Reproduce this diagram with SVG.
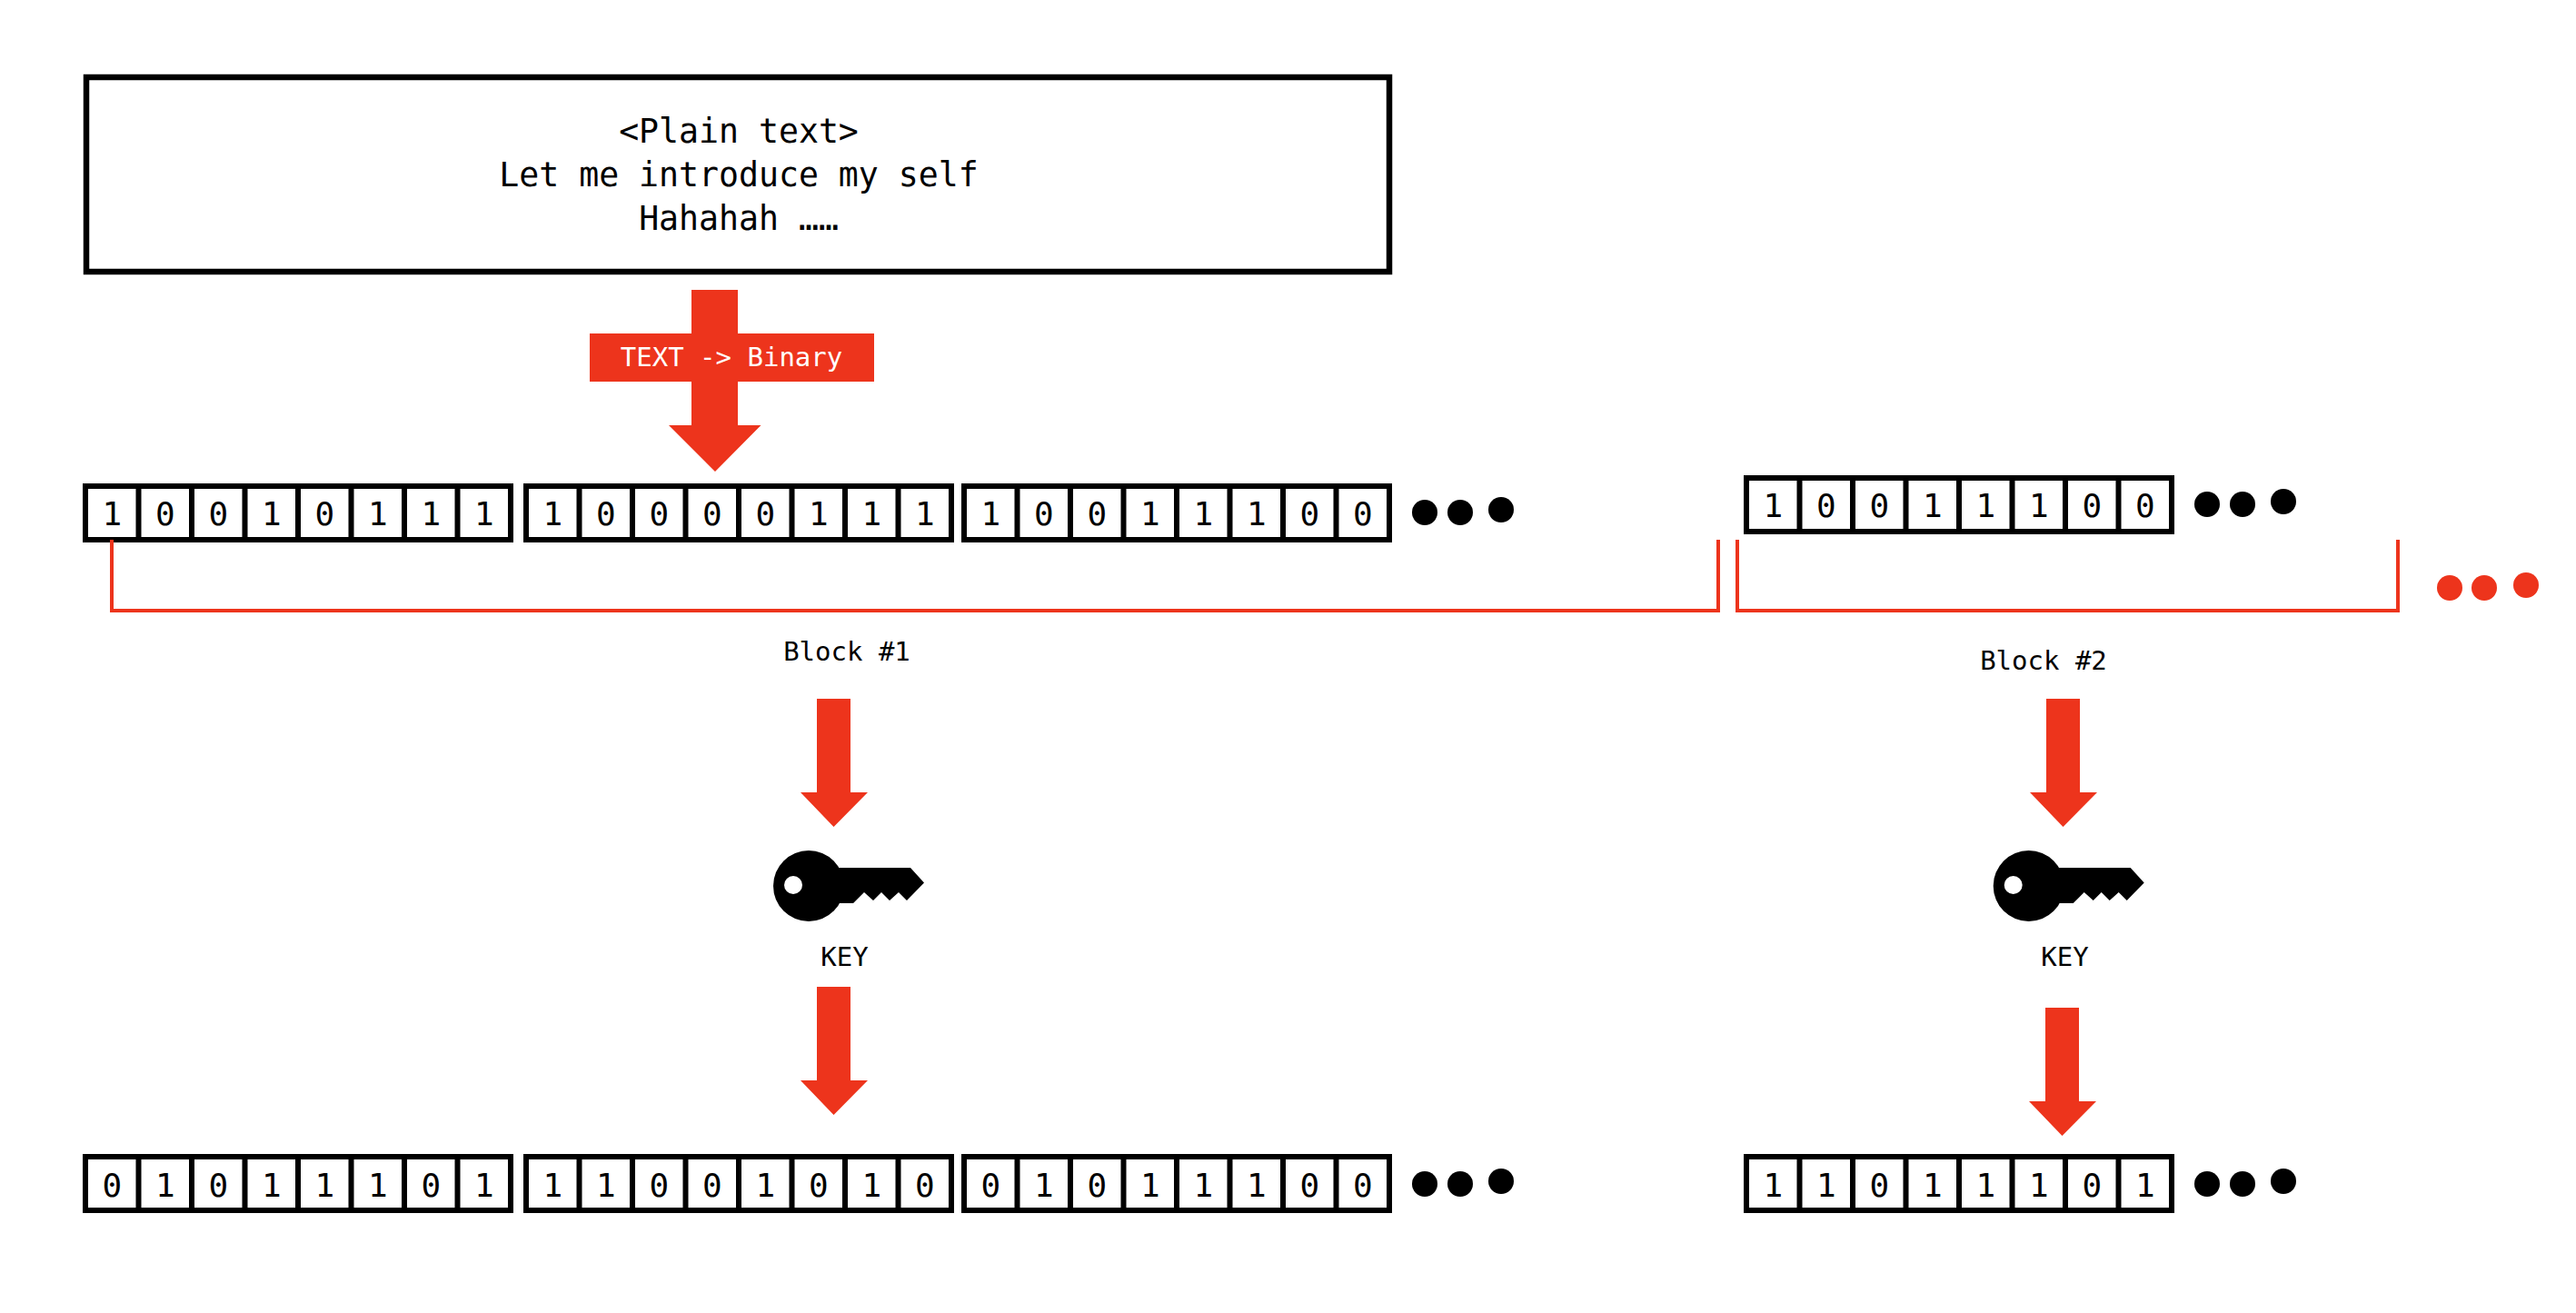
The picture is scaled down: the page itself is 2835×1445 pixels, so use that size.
<svg xmlns="http://www.w3.org/2000/svg" xmlns:xlink="http://www.w3.org/1999/xlink" width="2835" height="1445" viewBox="0 0 2835 1445">
<style>
text{font-family:"DejaVu Sans Mono",monospace;fill:#000;text-anchor:middle}
.t{font-size:36.5px}
.l{font-size:29px}
.b{font-size:36px}
.w{fill:#fff}
.f{fill:#ed341c}
.c{fill:#fff;stroke:#000;stroke-width:6.500}
.g{fill:none;stroke:#000;stroke-width:6}
.br{fill:none;stroke:#ed341c;stroke-width:4}
</style>
<defs>
<path id="arrow" class="f" d="M899 769H936V872H955L917.500 910 881 872H899Z"/>
<g id="key">
<circle cx="890" cy="975" r="39"/>
<path d="M921 955H1002L1017 971.500 998 991 989 982 979 991 970 982 961 991 951 982 939 994H921Z"/>
<circle cx="873" cy="974" r="10" fill="#fff"/>
</g>
<g id="reg">
<rect class="g" x="94" y="535" width="468" height="59" fill="#fff"/>
<path class="g" d="M152.500 535V594M211 535V594M269.500 535V594M328 535V594M386.500 535V594M445 535V594M503.500 535V594"/>
</g>
<g id="dots">
<circle cx="1568" cy="564" r="14"/>
<circle cx="1607" cy="564" r="14"/>
<circle cx="1652" cy="561" r="14"/>
</g>
</defs>
<rect width="2835" height="1445" fill="#fff"/>
<g id="plain-text">
<rect class="c" x="95" y="85" width="1434" height="214"/>
<text class="t" x="813" y="157">&lt;Plain text&gt;</text>
<text class="t" x="813" y="205">Let me introduce my self</text>
<text class="t" x="813" y="253">Hahahah ……</text>
</g>
<g id="text-to-binary">
<path class="f" d="M761 319H812V468H837.500L787 519 736 468H761Z"/>
<rect class="f" x="649" y="367" width="313" height="53"/>
<text class="l w" x="805" y="403">TEXT -&gt; Binary</text>
</g>
<g id="plain-byte-1">
<use xlink:href="#reg"/>
<text class="b" y="578" x="123.250 181.750 240.250 298.750 357.250 415.750 474.250 532.750">10010111</text>
</g>
<g id="plain-byte-2">
<use xlink:href="#reg" x="485"/>
<text class="b" y="578" x="608.250 666.750 725.250 783.750 842.250 900.750 959.250 1017.750">10000111</text>
</g>
<g id="plain-byte-3">
<use xlink:href="#reg" x="967"/>
<text class="b" y="578" x="1090.250 1148.750 1207.250 1265.750 1324.250 1382.750 1441.250 1499.750">10011100</text>
</g>
<g id="plain-dots-1"><use xlink:href="#dots"/></g>
<g id="plain-byte-4">
<use xlink:href="#reg" x="1828" y="-9"/>
<text class="b" y="569" x="1951.250 2009.750 2068.250 2126.750 2185.250 2243.750 2302.250 2360.750">10011100</text>
</g>
<g id="plain-dots-2"><use xlink:href="#dots" x="861" y="-9"/></g>
<g id="block-dots" class="f">
<circle cx="2696" cy="647" r="14"/>
<circle cx="2734" cy="647" r="14"/>
<circle cx="2780" cy="644" r="14"/>
</g>
<g id="block-1-label"><text class="l" x="932" y="727">Block #1</text></g>
<g id="block-2-label"><text class="l" x="2249" y="737">Block #2</text></g>
<g id="key-1">
<use xlink:href="#key"/>
<text class="l" x="929.500" y="1063">KEY</text>
</g>
<g id="key-2">
<use xlink:href="#key" x="1342.700"/>
<text class="l" x="2272.500" y="1063">KEY</text>
</g>
<g id="cipher-byte-1">
<use xlink:href="#reg" y="738"/>
<text class="b" y="1317" x="123.250 181.750 240.250 298.750 357.250 415.750 474.250 532.750">01011101</text>
</g>
<g id="cipher-byte-2">
<use xlink:href="#reg" x="485" y="738"/>
<text class="b" y="1317" x="608.250 666.750 725.250 783.750 842.250 900.750 959.250 1017.750">11001010</text>
</g>
<g id="cipher-byte-3">
<use xlink:href="#reg" x="967" y="738"/>
<text class="b" y="1317" x="1090.250 1148.750 1207.250 1265.750 1324.250 1382.750 1441.250 1499.750">01011100</text>
</g>
<g id="cipher-dots-1"><use xlink:href="#dots" y="739"/></g>
<g id="cipher-byte-4">
<use xlink:href="#reg" x="1828" y="738"/>
<text class="b" y="1317" x="1951.250 2009.750 2068.250 2126.750 2185.250 2243.750 2302.250 2360.750">11011101</text>
</g>
<g id="cipher-dots-2"><use xlink:href="#dots" x="861" y="739"/></g>
<g id="connectors">
<path class="br" d="M123 594V672H1891V594"/>
<path class="br" d="M1912 594V672H2639V594"/>
<use xlink:href="#arrow"/>
<use xlink:href="#arrow" y="317"/>
<use xlink:href="#arrow" x="1353"/>
<use xlink:href="#arrow" x="1352" y="340"/>
</g>
</svg>
